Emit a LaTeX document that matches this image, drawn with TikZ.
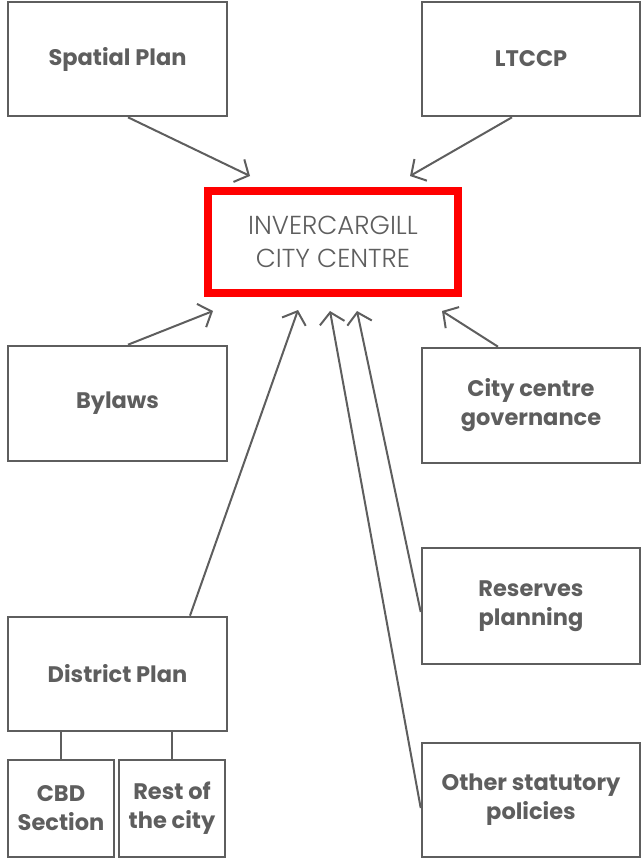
\documentclass[tikz,border=0pt]{standalone}
\usepackage{fontspec}
\setmainfont{Poppins}
\newfontfamily\lightfont{Poppins}[UprightFont=* Light]
\usetikzlibrary{arrows.meta}
\definecolor{inkgrey}{HTML}{5E5E5E}
\definecolor{boxred}{HTML}{FF0000}
\tikzset{
  box/.style={draw=inkgrey, line width=2.6pt, rectangle, align=center,
    text=inkgrey, font=\fontsize{22.5}{29}\selectfont\bfseries, inner sep=0pt},
  centrebox/.style={draw=boxred, line width=8pt, rectangle, align=center,
    text=inkgrey, font=\lightfont\fontsize{26}{33}\selectfont, inner sep=0pt},
  feed/.style={draw=inkgrey, line width=2pt,
    -{Straight Barb[length=11pt,width=25pt,line width=2pt]}},
  link/.style={draw=inkgrey, line width=2pt}
}
\begin{document}
\begin{tikzpicture}[x=1pt,y=-1pt]
\useasboundingbox (0,0) rectangle (641,859);

% source boxes
\node[box, minimum width=219pt, minimum height=114pt] (sp) at (117.5,59) {Spatial Plan};
\node[box, minimum width=218pt, minimum height=114pt] (lt) at (531,59) {LTCCP};
\node[box, minimum width=219pt, minimum height=115pt] (by) at (117.5,403.5) {Bylaws};
\node[box, minimum width=218pt, minimum height=115pt] (cg) at (531,405.5) {City centre\\governance};
\node[box, minimum width=218pt, minimum height=116pt] (rp) at (531,606) {Reserves\\planning};
\node[box, minimum width=218pt, minimum height=114pt] (os) at (531,800) {Other statutory\\policies};
\node[box, minimum width=219pt, minimum height=114pt] (dp) at (117.5,674) {District Plan};
\node[box, minimum width=106pt, minimum height=97pt] (cbd) at (61,808.5) {CBD\\Section};
\node[box, minimum width=106pt, minimum height=97pt] (rest) at (172,808.5) {Rest of\\the city};

% centre
\node[centrebox, minimum width=250pt, minimum height=102pt] (ic) at (333,242) {INVERCARGILL\\CITY CENTRE};

% arrow tips near the centre box
\coordinate (t1) at (250,176);
\coordinate (t2) at (410,176);
\coordinate (t3) at (213,311);
\coordinate (t4) at (298,310);
\coordinate (t5) at (330,311);
\coordinate (t6) at (357,311);
\coordinate (t7) at (442,311);

% connectors
\draw[feed] ([xshift=10.5pt]sp.south) -- (t1);
\draw[feed] ([xshift=-19pt]lt.south) -- (t2);
\draw[feed] ([xshift=10.5pt]by.north) -- (t3);
\draw[feed] ([xshift=72.5pt]dp.north) -- (t4);
\draw[feed] ([yshift=-8pt]os.west) -- (t5);
\draw[feed] ([yshift=-6pt]rp.west) -- (t6);
\draw[feed] ([xshift=-33pt]cg.north) -- (t7);

\draw[link] (dp.south -| cbd.north) -- (cbd.north);
\draw[link] (dp.south -| rest.north) -- (rest.north);
\end{tikzpicture}
\end{document}
